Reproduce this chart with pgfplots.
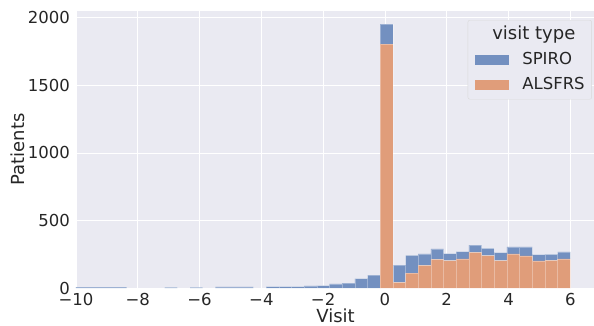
\documentclass[border=0pt]{standalone}
\usepackage{fontspec}
\setmainfont{DejaVu Sans}
\usepackage{pgfplots}
\usepackage{pgfplotstable}
\pgfplotsset{compat=1.18}
\definecolor{bg}{HTML}{EAEAF2}
\definecolor{spiro}{HTML}{7390C0}
\definecolor{als}{HTML}{E09D7A}
\definecolor{txt}{HTML}{262626}

\pgfplotstableread{
x als spiro
-9.7949 0 6
-9.3846 0 6
-8.9744 0 6
-8.5641 0 6
-6.9231 0 5
-6.1026 0 5
-5.2821 0 8
-4.8718 0 8
-4.4615 0 8
-3.6410 0 10
-3.2308 0 10
-2.8205 0 10
-2.4103 0 15
-2.0000 0 17
-1.5897 0 30
-1.1795 0 36
-0.7692 0 69
-0.3590 0 95
0.0513 1805 148
0.4615 42 128
0.8718 111 131
1.2821 168 84
1.6923 212 77
2.1026 202 52
2.5128 215 54
2.9231 263 55
3.3333 239 55
3.7436 202 60
4.1538 252 52
4.5641 237 67
4.9744 200 47
5.3846 205 44
5.7949 215 52
}\datatable

\begin{document}
\begin{tikzpicture}
\path[use as bounding box] (-76pt,-37pt) rectangle (518pt,288pt);
\begin{axis}[
  scale only axis, width=519pt, height=277pt,
  anchor=south west, at={(0pt,0pt)},
  xmin=-10, xmax=6.8, ymin=0, ymax=2051,
  enlargelimits=false,
  axis background/.style={fill=bg},
  axis line style={draw=none},
  grid=major, major grid style={white, line width=0.8pt},
  major tick length=0pt, tick style={draw=none},
  xtick={-10,-8,-6,-4,-2,0,2,4,6},
  xticklabels={−10,−8,−6,−4,−2,0,2,4,6},
  ytick={0,500,1000,1500,2000},
  yticklabels={0,500,1000,1500,2000},
  tick label style={font=\fontsize{16.5}{19}\selectfont, text=txt},
  xticklabel style={anchor=north, inner sep=0pt, yshift=-5pt},
  yticklabel style={anchor=east, inner sep=0pt, xshift=-6pt},
  xlabel={Visit}, ylabel={Patients},
  label style={font=\fontsize{18}{21}\selectfont, text=txt},
  xlabel style={at={(axis description cs:0.5,0)}, anchor=north, inner sep=0pt, yshift=-21pt},
  ylabel style={at={(axis description cs:-0.112,0.5)}, anchor=center},
  ybar stacked, bar width=0.410256,
  legend style={at={(rel axis cs:0.994,0.9675)}, anchor=north east,
    fill=bg, draw=black!15, rounded corners=2pt,
    font=\fontsize{16.5}{19}\selectfont, text=txt,
    inner xsep=7pt, inner ysep=7pt,
    nodes={inner sep=0pt, text height=12pt, text depth=3pt},
    row sep=10pt, column sep=0pt,
    /tikz/every odd column/.append style={column sep=14pt}},
  legend cell align=left,
]
\addlegendimage{empty legend}
\addlegendentry{\hspace{-30pt}\fontsize{18}{21}\selectfont visit type}
\addlegendimage{legend image code/.code={\fill[spiro, sharp corners] (0pt,-4.5pt) rectangle (33pt,4.5pt);}}
\addlegendentry{SPIRO}
\addlegendimage{legend image code/.code={\fill[als, sharp corners] (0pt,-4.5pt) rectangle (33pt,4.5pt);}}
\addlegendentry{ALSFRS}
\addplot[fill=als, draw=white, draw opacity=0.3, line width=0.5pt] table[x=x, y=als] {\datatable};
\addplot[fill=spiro, draw=white, draw opacity=0.3, line width=0.5pt] table[x=x, y=spiro] {\datatable};
\end{axis}
\end{tikzpicture}
\end{document}
